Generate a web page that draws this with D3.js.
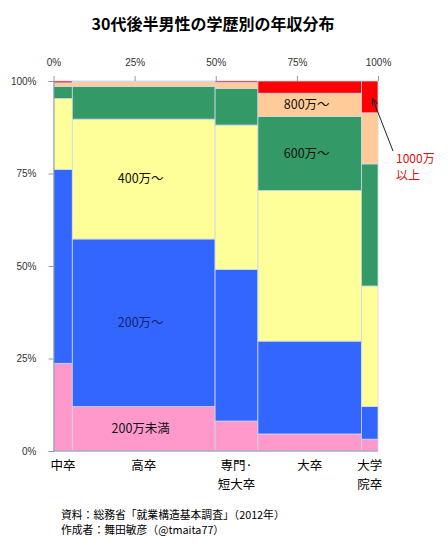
<!DOCTYPE html>
<html>
<head>
<meta charset="utf-8">
<script src="https://cdn.jsdelivr.net/npm/d3@7"></script>
<style>
  body { margin: 0; background: #fff; }
  text { font-family: "Noto Sans CJK JP", "Noto Sans", sans-serif; }
  .tick text { font-family: "Liberation Sans", Arial, sans-serif; font-size: 10px; fill: #333; }
</style>
</head>
<body>
<div id="chart"></div>
<script>
// schools (columns) and their share of men in their late 30s
var schools = ["中卒", "高卒", "専門・短大卒", "大卒", "大学院卒"];
var schoolLines = [["中卒"], ["高卒"], ["専門·", "短大卒"], ["大卒"], ["大学", "院卒"]];
var schoolShare = [5.8, 44.0, 13.2, 31.9, 5.1];

// income bands, bottom to top
var bands = ["200万未満", "200万〜", "400万〜", "600万〜", "800万〜", "1000万以上"];

// % of each school that falls into the band
var under200 = [23.7, 12.0, 8.1, 4.6, 3.2];
var from200 = [52.4, 45.3, 41.0, 25.1, 8.8];
var from400 = [19.2, 32.4, 39.0, 40.7, 32.6];
var from600 = [3.2, 8.8, 9.9, 20.0, 33.0];
var from800 = [1.0, 1.3, 1.6, 6.3, 13.8];
var over1000 = [0.5, 0.2, 0.4, 3.3, 8.6];

var pctTicks = [0, 25, 50, 75, 100];

var svgWidth = 448;
var svgHeight = 552;

var svg = d3.select("#chart")
  .append("svg")
  .attr("width", svgWidth)
  .attr("height", svgHeight);

var x = d3.scaleLinear().domain([0, 100]).range([53.5, 378]);
var y = d3.scaleLinear().domain([0, 100]).range([451, 81]);

var color = d3.scaleOrdinal()
  .domain(bands)
  .range(["#ff99cc", "#3366ff", "#ffff99", "#339966", "#ffcc99", "#ff0000"]);

var bandValues = [under200, from200, from400, from600, from800, over1000];

// build cells: column start/end and stacked band start/end
var cells = [];
var colStart = 0;
schools.forEach(function(s, i) {
  var colEnd = colStart + schoolShare[i];
  var acc = 0;
  bands.forEach(function(b, j) {
    var v = bandValues[j][i];
    cells.push({school: s, band: b, x0: colStart, x1: colEnd, y0: acc, y1: acc + v});
    acc += v;
  });
  colStart = colEnd;
});

// title
svg.append("text")
  .attr("x", 213)
  .attr("y", 30)
  .attr("text-anchor", "middle")
  .attr("font-size", 16)
  .attr("font-weight", "bold")
  .text("30代後半男性の学歴別の年収分布");

// mosaic cells
svg.append("g")
  .selectAll("rect")
  .data(cells)
  .enter()
  .append("rect")
  .attr("x", function(d) { return x(d.x0); })
  .attr("y", function(d) { return y(d.y1); })
  .attr("width", function(d) { return x(d.x1) - x(d.x0); })
  .attr("height", function(d) { return y(d.y0) - y(d.y1); })
  .attr("fill", function(d) { return color(d.band); })
  .attr("stroke", "#cdd6e6")
  .attr("stroke-width", 0.8);

// axes
var fmt = function(d) { return d + "%"; };

var topAxis = svg.append("g")
  .attr("transform", "translate(0," + y(100) + ")")
  .call(d3.axisTop(x).tickValues(pctTicks).tickFormat(fmt).tickSize(5).tickPadding(10));
topAxis.select(".domain").remove();
topAxis.selectAll("line").attr("stroke", "#8a9ab8");

var leftAxis = svg.append("g")
  .attr("transform", "translate(" + x(0) + ",0)")
  .call(d3.axisLeft(y).tickValues(pctTicks).tickFormat(fmt).tickSize(5).tickPadding(12));
leftAxis.select(".domain").attr("stroke", "#8a9ab8");
leftAxis.selectAll("line").attr("stroke", "#8a9ab8");

svg.append("line")
  .attr("x1", x(0)).attr("x2", x(100))
  .attr("y1", y(0)).attr("y2", y(0))
  .attr("stroke", "#8a9ab8");

// school labels under the columns
var colCells = cells.filter(function(d) { return d.band === bands[0]; });
colCells.forEach(function(d, i) {
  schoolLines[i].forEach(function(line, k) {
    svg.append("text")
      .attr("x", x((d.x0 + d.x1) / 2))
      .attr("y", 470 + k * 18.5)
      .attr("text-anchor", "middle")
      .attr("font-size", 12.5)
      .text(line);
  });
});

// band labels inside 高卒 and 大卒 columns
var labelled = [
  {school: "高卒", band: "200万未満"},
  {school: "高卒", band: "200万〜"},
  {school: "高卒", band: "400万〜"},
  {school: "大卒", band: "600万〜"},
  {school: "大卒", band: "800万〜"}
];
labelled.forEach(function(l) {
  var c = cells.find(function(d) { return d.school === l.school && d.band === l.band; });
  svg.append("text")
    .attr("x", x((c.x0 + c.x1) / 2) - 3)
    .attr("y", y((c.y0 + c.y1) / 2))
    .attr("dy", "0.35em")
    .attr("text-anchor", "middle")
    .attr("font-size", 12.5)
    .attr("fill", l.band === "200万〜" ? "#14246a" : "#111")
    .text(l.band);
});

// 1000万以上 callout on 大学院卒
var topCell = cells.find(function(d) { return d.school === "大学院卒" && d.band === "1000万以上"; });
svg.append("defs").append("marker")
  .attr("id", "arrow")
  .attr("viewBox", "0 0 10 10")
  .attr("refX", 9).attr("refY", 5)
  .attr("markerWidth", 7).attr("markerHeight", 7)
  .attr("orient", "auto")
  .append("path")
  .attr("d", "M0,1 L10,5 L0,9")
  .attr("fill", "none")
  .attr("stroke", "#222")
  .attr("stroke-width", 1.5);

svg.append("line")
  .attr("x1", 393).attr("y1", 151)
  .attr("x2", x((topCell.x0 + topCell.x1) / 2) + 3)
  .attr("y2", y((topCell.y0 + topCell.y1) / 2) + 2)
  .attr("stroke", "#222")
  .attr("stroke-width", 1)
  .attr("marker-end", "url(#arrow)");

svg.append("text")
  .attr("x", 396).attr("y", 163)
  .attr("font-size", 12)
  .attr("fill", "#e01010")
  .text("1000万");
svg.append("text")
  .attr("x", 396).attr("y", 180)
  .attr("font-size", 12)
  .attr("fill", "#e01010")
  .text("以上");

// source
svg.append("text")
  .attr("x", 61).attr("y", 519)
  .attr("font-size", 10.8)
  .text("資料：総務省「就業構造基本調査」（2012年）");
svg.append("text")
  .attr("x", 61).attr("y", 534)
  .attr("font-size", 10.8)
  .text("作成者：舞田敏彦（@tmaita77）");
</script>
</body>
</html>
